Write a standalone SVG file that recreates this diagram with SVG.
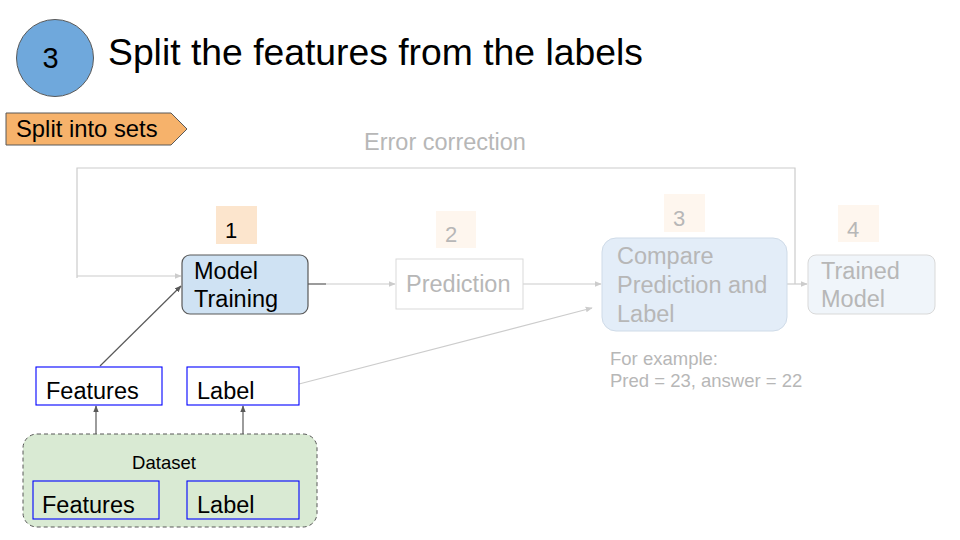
<svg xmlns="http://www.w3.org/2000/svg" width="960" height="540" viewBox="0 0 960 540">
<defs>
<style>
text{font-family:"Liberation Sans",Arial,sans-serif;}
.t{font-size:23.5px;fill:#000;}
.f{font-size:23.5px;fill:#b7b7b7;}
.s{font-size:18.5px;fill:#b7b7b7;}
.num{fill:#fce5cd;}
.numf{fill:#fef6ee;}
.blue{fill:#fff;stroke:#0000ff;stroke-width:1.1;}
.dk{stroke:#595959;stroke-width:1.2;fill:none;}
.lt{stroke:#cccccc;stroke-width:1.2;fill:none;}
</style>
<marker id="ad" viewBox="0 0 10 10" refX="9" refY="5" markerWidth="7" markerHeight="7" markerUnits="userSpaceOnUse" orient="auto"><path d="M0,1 L10,5 L0,9 z" fill="#595959"/></marker>
<marker id="al" viewBox="0 0 10 10" refX="9" refY="5" markerWidth="7" markerHeight="7" markerUnits="userSpaceOnUse" orient="auto"><path d="M0,1 L10,5 L0,9 z" fill="#cccccc"/></marker>
</defs>
<rect width="960" height="540" fill="#fff"/>

<g id="step-badge">
<circle cx="55" cy="58" r="38.5" fill="#6fa8dc" stroke="#595959" stroke-width="1"/>
<text x="50.5" y="68" font-size="29" text-anchor="middle">3</text>
</g>
<g id="title"><text x="108" y="65" font-size="37.3">Split the features from the labels</text></g>

<g id="split-into-sets">
<path d="M6,113 L171,113 L187,129 L171,145 L6,145 z" fill="#f6b26b" stroke="#595959" stroke-width="1"/>
<text x="16" y="137" font-size="23.8">Split into sets</text>
</g>

<g id="connectors">
<polyline class="lt" points="795,284 795,168 77,168 77,278"/>
<line class="lt" x1="77" y1="276" x2="181" y2="276" marker-end="url(#al)"/>
<line class="dk" x1="308" y1="284" x2="326" y2="284"/>
<line class="lt" x1="326" y1="284" x2="395" y2="284" marker-end="url(#al)"/>
<line class="lt" x1="523" y1="284" x2="601" y2="284" marker-end="url(#al)"/>
<line class="lt" x1="787" y1="284" x2="807" y2="284" marker-end="url(#al)"/>
<line class="dk" x1="100" y1="366" x2="181" y2="286" marker-end="url(#ad)"/>
<line class="lt" x1="299" y1="384" x2="592" y2="308" marker-end="url(#al)"/>
<line class="dk" x1="96" y1="481" x2="96" y2="406" marker-end="url(#ad)"/>
<line class="dk" x1="243" y1="481" x2="243" y2="406" marker-end="url(#ad)"/>
</g>

<g id="error-correction-label"><text class="f" x="364" y="150">Error correction</text></g>

<g id="step1">
<rect class="num" x="216" y="206" width="41" height="38"/>
<text x="225" y="238" font-size="22">1</text>
</g>
<g id="model-training">
<rect x="182" y="255" width="126" height="59" rx="8" fill="#cfe2f3" stroke="#595959" stroke-width="1.2"/>
<text class="t" x="194" y="279">Model</text>
<text class="t" x="194" y="307">Training</text>
</g>

<g id="step2">
<rect class="numf" x="436" y="211" width="40" height="37"/>
<text x="445" y="242" font-size="22" fill="#b7b7b7">2</text>
</g>
<g id="prediction">
<rect x="396" y="259" width="127" height="50" fill="#fff" stroke="#d9d9d9" stroke-width="1"/>
<text class="f" x="406" y="292">Prediction</text>
</g>

<g id="step3">
<rect class="numf" x="664" y="194" width="41" height="38"/>
<text x="673" y="226" font-size="22" fill="#b7b7b7">3</text>
</g>
<g id="compare">
<rect x="602" y="238" width="185" height="93" rx="14" fill="#e3edf8" stroke="#cfdbe8" stroke-width="1"/>
<text class="f" x="617" y="264">Compare</text>
<text class="f" x="617" y="293">Prediction and</text>
<text class="f" x="617" y="322">Label</text>
</g>
<g id="example">
<text class="s" x="610" y="365">For example:</text>
<text class="s" x="610" y="387">Pred = 23, answer = 22</text>
</g>

<g id="step4">
<rect class="numf" x="838" y="205" width="41" height="37"/>
<text x="847" y="237" font-size="22" fill="#b7b7b7">4</text>
</g>
<g id="trained-model">
<rect x="808" y="255" width="127" height="59" rx="8" fill="#f0f5fa" stroke="#d9d9d9" stroke-width="1"/>
<text class="f" x="821" y="279">Trained</text>
<text class="f" x="821" y="307">Model</text>
</g>

<g id="features">
<rect class="blue" x="36" y="367" width="126" height="38"/>
<text class="t" x="46" y="399">Features</text>
</g>
<g id="label">
<rect class="blue" x="187" y="367" width="112" height="38"/>
<text class="t" x="197" y="399">Label</text>
</g>

<g id="dataset">
<rect x="23" y="434" width="294" height="93" rx="14" fill="#d9ead3" stroke="#595959" stroke-width="1" stroke-dasharray="4,3"/>
<text x="164" y="469" font-size="18.5" text-anchor="middle">Dataset</text>
<rect x="33" y="481" width="126" height="38" fill="none" stroke="#0000ff" stroke-width="1.1"/>
<text class="t" x="42" y="513">Features</text>
<rect x="187" y="481" width="112" height="38" fill="none" stroke="#0000ff" stroke-width="1.1"/>
<text class="t" x="197" y="513">Label</text>
</g>
</svg>
